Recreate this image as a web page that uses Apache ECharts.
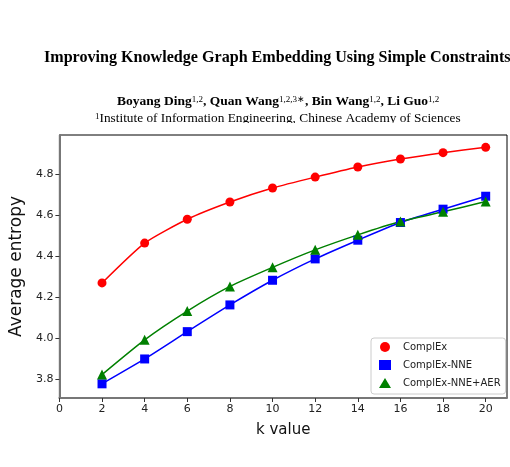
<!DOCTYPE html>
<html>
<head>
<meta charset="utf-8">
<script src="https://cdn.jsdelivr.net/npm/echarts@6/dist/echarts.min.js"></script>
<style>
  html, body { margin: 0; padding: 0; background: #fff; }
  #chart { width: 510px; height: 467px; }
</style>
</head>
<body>
<div id="chart"></div>
<script>
// values
const kValues = [2, 4, 6, 8, 10, 12, 14, 16, 18, 20];
const complex = [4.27, 4.464, 4.58, 4.664, 4.732, 4.785, 4.834, 4.873, 4.904, 4.93];
const complexNNE = [3.779, 3.90, 4.033, 4.163, 4.283, 4.387, 4.478, 4.564, 4.629, 4.692];
const complexNNEAER = [3.824, 3.993, 4.133, 4.253, 4.346, 4.431, 4.504, 4.569, 4.616, 4.666];
const xTicks = [0, 2, 4, 6, 8, 10, 12, 14, 16, 18, 20];
const yTicks = [3.8, 4.0, 4.2, 4.4, 4.6, 4.8];

const seriesNames = ['ComplEx', 'ComplEx-NNE', 'ComplEx-NNE+AER'];

function pairs (ys) {
  return kValues.map((k, i) => [k, ys[i]]);
}

let myChart = echarts.init(document.getElementById('chart'));

const tickLabel = {
  color: '#222',
  fontFamily: 'DejaVu Sans',
  fontSize: 11
};

myChart.setOption({
  animation: false,
  backgroundColor: '#fff',
  graphic: [
    {
      type: 'text',
      left: 44,
      top: 50,
      style: {
        text: 'Improving Knowledge Graph Embedding Using Simple Constraints',
        font: 'bold 16.1px "Liberation Serif"',
        fill: '#000'
      }
    },
    {
      type: 'text',
      left: 117,
      top: 95,
      style: {
        text: 'Boyang Ding{s|1,2}, Quan Wang{s|1,2,3∗}, Bin Wang{s|1,2}, Li Guo{s|1,2}',
        font: 'bold 13.5px "Liberation Serif"',
        fill: '#000',
        rich: {
          s: { fontSize: 9, fontWeight: 'normal', fontFamily: 'Liberation Serif', verticalAlign: 'top', fill: '#000' }
        }
      }
    },
    {
      type: 'text',
      left: 95,
      top: 112,
      style: {
        text: '{s|1}Institute of Information Engineering, Chinese Academy of Sciences',
        font: '13.3px "Liberation Serif"',
        fill: '#000',
        rich: {
          s: { fontSize: 9, fontFamily: 'Liberation Serif', verticalAlign: 'top', fill: '#000' }
        }
      }
    },
    {
      type: 'rect',
      z: 100,
      shape: { x: 0, y: 123, width: 510, height: 11 },
      style: { fill: '#fff' }
    }
  ],
  grid: {
    left: 59,
    right: 3,
    top: 135,
    bottom: 69,
    show: true,
    borderColor: '#000',
    borderWidth: 1,
    backgroundColor: '#fff'
  },
  legend: {
    orient: 'vertical',
    left: 371,
    top: 338,
    padding: [4, 5, 6, 8],
    itemGap: 8,
    itemWidth: 12,
    itemHeight: 10,
    backgroundColor: '#fff',
    borderColor: '#ccc',
    borderWidth: 1,
    borderRadius: 3,
    textStyle: {
      color: '#222',
      fontFamily: 'DejaVu Sans',
      fontSize: 10,
      padding: [0, 0, 0, 7]
    },
    data: [
      { name: seriesNames[0], icon: 'circle' },
      { name: seriesNames[1], icon: 'rect' },
      { name: seriesNames[2], icon: 'triangle' }
    ]
  },
  xAxis: {
    type: 'value',
    min: 0,
    max: 21,
    name: 'k value',
    nameLocation: 'middle',
    nameGap: 25,
    nameTextStyle: { color: '#111', fontFamily: 'DejaVu Sans', fontSize: 15 },
    axisLine: { lineStyle: { color: '#777', width: 2 } },
    axisTick: { show: true, length: 4, lineStyle: { color: '#333' }, customValues: xTicks },
    axisLabel: Object.assign({ margin: 6, fontSize: 10.5, customValues: xTicks }, tickLabel),
    splitLine: { show: false }
  },
  yAxis: {
    type: 'value',
    min: 3.71,
    max: 4.99,
    name: 'Average entropy',
    nameLocation: 'middle',
    nameGap: 22,
    nameTextStyle: { color: '#111', fontFamily: 'DejaVu Sans', fontSize: 17 },
    axisLine: { show: true, lineStyle: { color: '#777', width: 2 } },
    axisTick: { show: true, length: 4, lineStyle: { color: '#333' }, customValues: yTicks },
    axisLabel: Object.assign({
      margin: 6,
      customValues: yTicks,
      formatter: (v) => v.toFixed(1)
    }, tickLabel),
    splitLine: { show: false }
  },
  series: [
    {
      name: seriesNames[0],
      type: 'line',
      data: pairs(complex),
      smooth: 0.2,
      symbol: 'circle',
      symbolSize: 9,
      itemStyle: { color: '#ff0000' },
      lineStyle: { color: '#ff0000', width: 1.5 }
    },
    {
      name: seriesNames[1],
      type: 'line',
      data: pairs(complexNNE),
      smooth: 0.2,
      symbol: 'rect',
      symbolSize: 9,
      itemStyle: { color: '#0000ff' },
      lineStyle: { color: '#0000ff', width: 1.5 }
    },
    {
      name: seriesNames[2],
      type: 'line',
      data: pairs(complexNNEAER),
      smooth: 0.2,
      symbol: 'triangle',
      symbolSize: 10,
      itemStyle: { color: '#008000' },
      lineStyle: { color: '#008000', width: 1.5 }
    }
  ]
});
</script>
</body>
</html>
